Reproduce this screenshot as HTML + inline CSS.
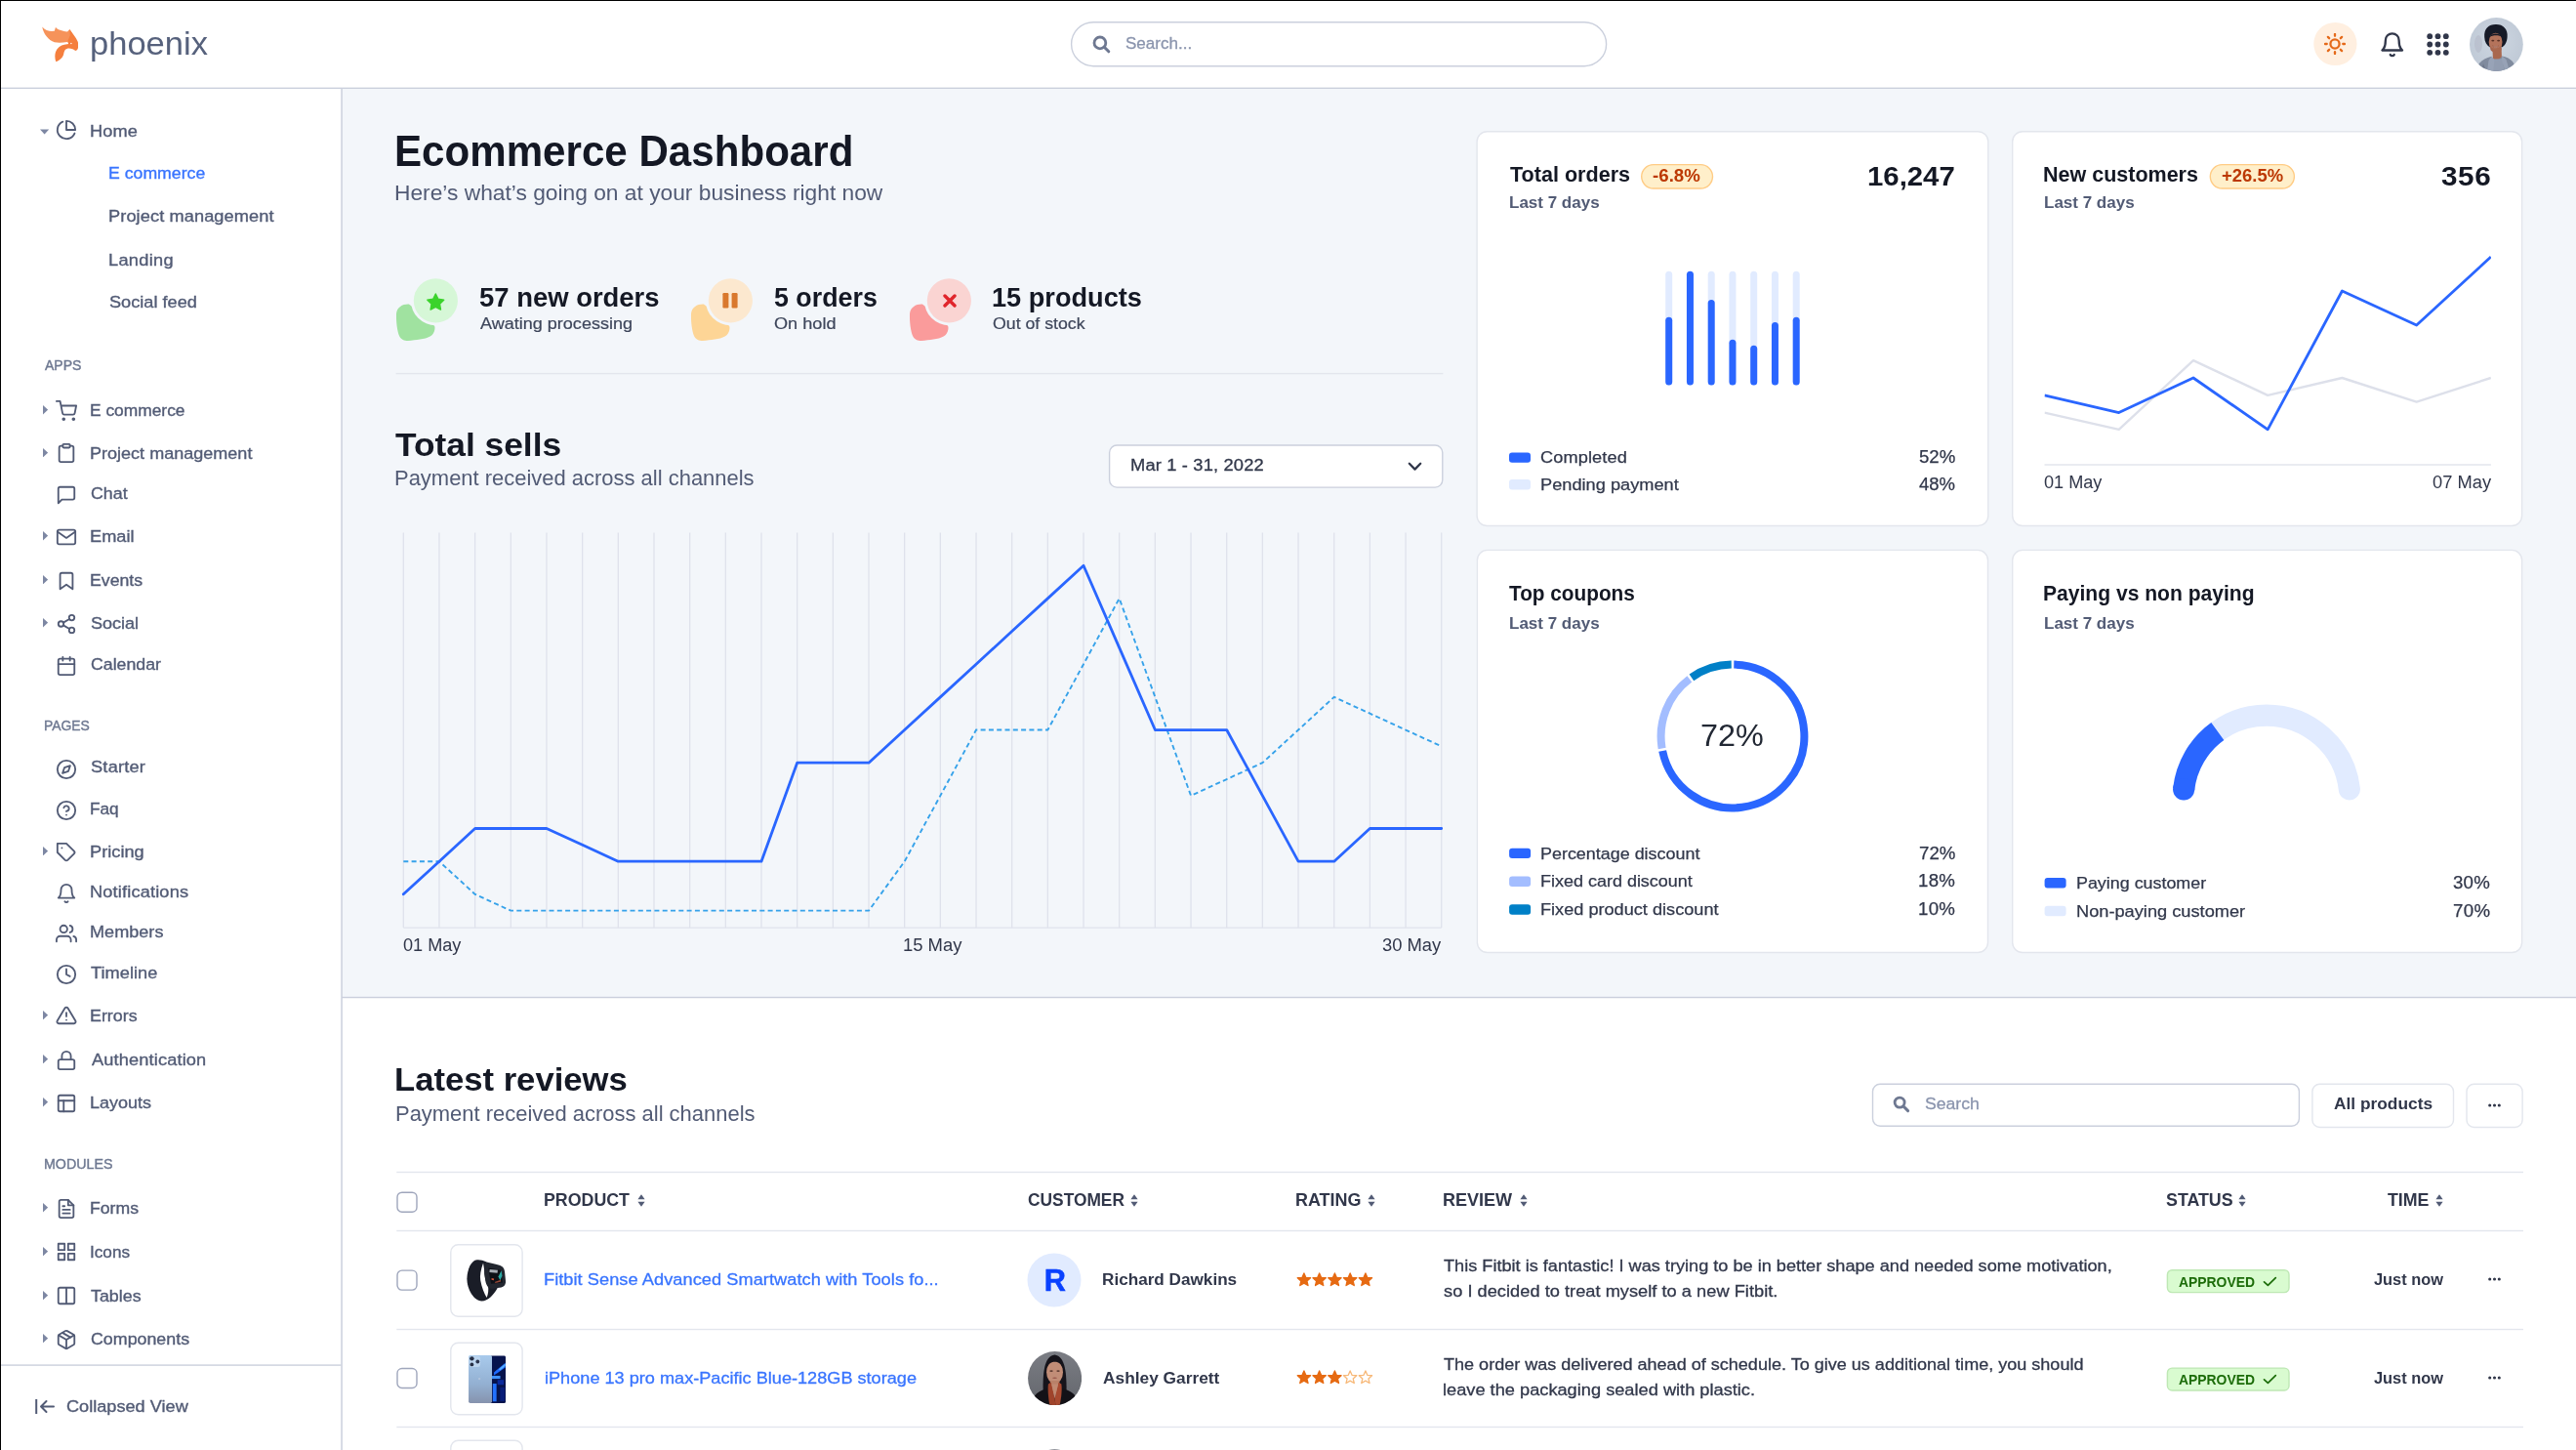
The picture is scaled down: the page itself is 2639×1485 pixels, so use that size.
<!DOCTYPE html>
<html lang="en"><head><meta charset="utf-8"><title>Phoenix</title>
<style>
html,body{margin:0;padding:0;background:#fff;}
body{width:2639px;height:1485px;overflow:hidden;position:relative;font-family:"Liberation Sans", sans-serif;}
#r{position:absolute;left:0;top:0;width:2639px;height:1485px;overflow:hidden;will-change:transform;}
#r div,#r span.t,#r svg{position:absolute;box-sizing:border-box;}
#r span.t{white-space:pre;display:block;}
</style></head>
<body><div id="r">
<div style="left:0.00px;top:0.00px;width:2639.00px;height:1485.00px;background:#fff;"></div>
<svg style="left:348px;top:88px" width="2305" height="938"><rect x="2.00" y="2.00" width="2299.00" height="932.20" rx="0.00" fill="#f3f6fa"/></svg>
<svg style="left:348px;top:1018px" width="2305" height="7"><rect x="2.00" y="2.80" width="2299.00" height="1.40" rx="0.00" fill="#cbd0dd"/></svg>
<svg style="left:-2px;top:87px" width="2655" height="7"><rect x="2.00" y="2.60" width="2649.00" height="1.40" rx="0.00" fill="#cbd0dd"/></svg>
<svg style="left:347px;top:88px" width="7" height="1411"><rect x="2.30" y="2.00" width="1.50" height="1405.00" rx="0.00" fill="#cbd0dd"/></svg>
<svg style="left:-2px;top:1395px" width="355" height="7"><rect x="2.00" y="2.40" width="349.50" height="1.40" rx="0.00" fill="#cbd0dd"/></svg>
<svg style="left:42.8px;top:27px" width="37.3" height="36.5" viewBox="0 0 480 470"><path d="M3 5 C40 50 100 70 165 62 L180 10 C200 45 260 60 335 72 L365 40 C380 70 400 100 410 130 L335 205 C270 218 210 218 165 210 C85 180 20 100 3 5Z" fill="#f6935a"/><path d="M365 40 C400 90 450 150 470 195 C488 240 482 285 462 312 L440 322 C420 300 380 288 335 292 C300 298 292 330 286 365 C280 400 250 440 185 468 C165 420 165 350 200 300 C235 255 280 240 330 236 C352 233 356 222 335 205 L370 120Z" fill="#f57f3e"/><circle cx="385" cy="226" r="9" fill="#fff"/></svg>
<span class="t" style="left:91.98px;top:23px;font-size:33.8px;line-height:43.94px;font-weight:400;color:#56617c;transform:scaleX(1.0212);transform-origin:0 50%;">phoenix</span>
<svg style="left:1094px;top:20px" width="555" height="52"><rect x="3.60" y="2.70" width="548.00" height="45.00" rx="22.50" fill="#fff" stroke="#cbd0dd" stroke-width="1.4"/></svg>
<svg style="left:1118.50px;top:36.30px" width="19" height="19" viewBox="0 0 19 19"><circle cx="7.9" cy="7.9" r="5.9" fill="none" stroke="#6e7891" stroke-width="2.8"/><line x1="12.3" y1="12.3" x2="16.8" y2="16.8" stroke="#6e7891" stroke-width="3" stroke-linecap="round"/></svg>
<span class="t" style="left:1152.93px;top:33px;font-size:17.2px;line-height:22.36px;font-weight:400;color:#8a94ad;transform:scaleX(0.9918);transform-origin:0 50%;-webkit-text-stroke:0.3px #8a94ad;">Search...</span>
<svg style="left:2368px;top:20px" width="50" height="50"><circle cx="24.4" cy="25" r="22.1" fill="#ffefe0"/></svg>
<svg style="left:2381.40px;top:34.30px" width="22" height="22" viewBox="0 0 24 24" fill="none" stroke="#e56a1a" stroke-width="2.5" stroke-linecap="round" stroke-linejoin="round"><circle cx="12" cy="12" r="5"/><line x1="12" y1="1" x2="12" y2="3"/><line x1="12" y1="21" x2="12" y2="23"/><line x1="4.22" y1="4.22" x2="5.64" y2="5.64"/><line x1="18.36" y1="18.36" x2="19.78" y2="19.78"/><line x1="1" y1="12" x2="3" y2="12"/><line x1="21" y1="12" x2="23" y2="12"/><line x1="4.22" y1="19.78" x2="5.64" y2="18.36"/><line x1="18.36" y1="5.64" x2="19.78" y2="4.22"/></svg>
<svg style="left:2436.85px;top:31.85px" width="27.5" height="27.5" viewBox="0 0 24 24" fill="none" stroke="#31374a" stroke-width="2" stroke-linecap="round" stroke-linejoin="round"><path d="M18 8A6 6 0 0 0 6 8c0 7-3 9-3 9h18s-3-2-3-9"/><path d="M13.73 21a2 2 0 0 1-3.46 0"/></svg>
<svg style="left:2485.50px;top:34.30px" width="23" height="23" viewBox="0 0 23 23"><circle cx="3.2" cy="3.2" r="2.9" fill="#31374a"/><circle cx="3.2" cy="11.5" r="2.9" fill="#31374a"/><circle cx="3.2" cy="19.8" r="2.9" fill="#31374a"/><circle cx="11.5" cy="3.2" r="2.9" fill="#31374a"/><circle cx="11.5" cy="11.5" r="2.9" fill="#31374a"/><circle cx="11.5" cy="19.8" r="2.9" fill="#31374a"/><circle cx="19.8" cy="3.2" r="2.9" fill="#31374a"/><circle cx="19.8" cy="11.5" r="2.9" fill="#31374a"/><circle cx="19.8" cy="19.8" r="2.9" fill="#31374a"/></svg>
<svg style="left:2530.10px;top:18.00px" width="55" height="55" viewBox="0 0 55 55"><defs><clipPath id="av0"><circle cx="27.4" cy="27.5" r="27.4"/></clipPath><radialGradient id="av0g" cx="0.5" cy="0.45" r="0.7"><stop offset="0" stop-color="#cdd6e1"/><stop offset="1" stop-color="#bcc6d3"/></radialGradient></defs><g clip-path="url(#av0)"><rect width="55" height="55" fill="url(#av0g)"/><ellipse cx="9" cy="27" rx="4" ry="9" fill="#b6bccb" opacity=".7"/><path d="M15.2 20 C14.5 11 20 6.8 27 7 C34 6.8 39.5 11.5 38.6 20 C38.4 25 36 29 33.5 30.2 L20.5 30.2 C17.5 28.5 15.4 25 15.2 20Z" fill="#161a27"/><ellipse cx="26.6" cy="25" rx="6.9" ry="9.2" fill="#b4735b"/><ellipse cx="23.8" cy="23.6" rx="1.5" ry="0.9" fill="#5a3226"/><ellipse cx="29.6" cy="23.6" rx="1.5" ry="0.9" fill="#5a3226"/><path d="M23.6 29 C25.4 31 28 31 29.8 29 C28 30 25.4 30 23.6 29Z" fill="#f1e1d8" stroke="#8a4a3a" stroke-width="0.5"/><path d="M20.5 20 C22 16 30 15 33.2 20 C31 17.5 23 17.6 20.5 20Z" fill="#161a27"/><path d="M21 29 C23 33 30 33 32.4 28.5 L32.6 33 C30 36.5 24 36.5 21.4 33Z" fill="#a5644e"/><path d="M23.4 32 L32.6 31 L33 43 L24 43Z" fill="#a9684f"/><path d="M7 55 C8 46 14 42 22.5 39.8 L27 46 L33.4 39.6 C42 41.5 46.5 45.5 47.5 55Z" fill="#808b9e"/><path d="M24.6 42.6 L33.2 42.2 L36 55 L24 55Z" fill="#929db1"/><path d="M22.5 39.8 L25.4 43 L24.5 55 L18 55 L19.5 44Z" fill="#98a3b7"/><path d="M33.4 39.6 L32.6 43 L36.6 55 L41 55 L37.5 43Z" fill="#97a2b6"/><path d="M14 47 L17 55 L12 55Z" fill="#5f697c" opacity=".6"/></g></svg>
<svg style="left:41.40px;top:131.60px" width="9.2" height="6" viewBox="0 0 9.2 6"><path d="M0 0.4 L9.2 0.4 L4.6 5.6Z" fill="#7d87a3"/></svg>
<svg style="left:56.80px;top:122.40px" width="22" height="22" viewBox="0 0 24 24" fill="none" stroke="#525b75" stroke-width="2" stroke-linecap="round" stroke-linejoin="round"><path d="M21.21 15.89A10 10 0 1 1 8 2.83"/><path d="M22 12A10 10 0 0 0 12 2v10z"/></svg>
<span class="t" style="left:92.10px;top:123px;font-size:17.2px;line-height:22.36px;font-weight:400;color:#525b75;letter-spacing:0.061px;transform:scaleX(1.0600);transform-origin:0 50%;-webkit-text-stroke:0.35px #525b75;">Home</span>
<span class="t" style="left:111.15px;top:166px;font-size:17.2px;line-height:22.36px;font-weight:400;color:#3874ff;transform:scaleX(1.0287);transform-origin:0 50%;-webkit-text-stroke:0.35px #3874ff;">E commerce</span>
<span class="t" style="left:111.10px;top:210px;font-size:17.2px;line-height:22.36px;font-weight:400;color:#525b75;letter-spacing:0.079px;transform:scaleX(1.0600);transform-origin:0 50%;-webkit-text-stroke:0.35px #525b75;">Project management</span>
<span class="t" style="left:111.10px;top:255px;font-size:17.2px;line-height:22.36px;font-weight:400;color:#525b75;letter-spacing:0.272px;transform:scaleX(1.0600);transform-origin:0 50%;-webkit-text-stroke:0.35px #525b75;">Landing</span>
<span class="t" style="left:111.77px;top:298px;font-size:17.2px;line-height:22.36px;font-weight:400;color:#525b75;transform:scaleX(1.0570);transform-origin:0 50%;-webkit-text-stroke:0.35px #525b75;">Social feed</span>
<span class="t" style="left:45.87px;top:365px;font-size:14.4px;line-height:18.72px;font-weight:400;color:#6e7891;transform:scaleX(0.9757);transform-origin:0 50%;-webkit-text-stroke:0.4px #6e7891;">APPS</span>
<svg style="left:43.80px;top:415.20px" width="5.4" height="9.4" viewBox="0 0 5.4 9.4"><path d="M0 0 L5.2 4.7 L0 9.4Z" fill="#7d87a3"/></svg>
<svg style="left:56.80px;top:409.70px" width="22" height="22" viewBox="0 0 24 24" fill="none" stroke="#525b75" stroke-width="2" stroke-linecap="round" stroke-linejoin="round"><circle cx="9" cy="21" r="1"/><circle cx="20" cy="21" r="1"/><path d="M1 1h4l2.68 13.39a2 2 0 0 0 2 1.61h9.72a2 2 0 0 0 2-1.61L23 6H6"/></svg>
<span class="t" style="left:92.17px;top:409px;font-size:17.2px;line-height:22.36px;font-weight:400;color:#525b75;transform:scaleX(1.0107);transform-origin:0 50%;-webkit-text-stroke:0.35px #525b75;">E commerce</span>
<svg style="left:43.80px;top:458.80px" width="5.4" height="9.4" viewBox="0 0 5.4 9.4"><path d="M0 0 L5.2 4.7 L0 9.4Z" fill="#7d87a3"/></svg>
<svg style="left:56.80px;top:453.30px" width="22" height="22" viewBox="0 0 24 24" fill="none" stroke="#525b75" stroke-width="2" stroke-linecap="round" stroke-linejoin="round"><path d="M16 4h2a2 2 0 0 1 2 2v14a2 2 0 0 1-2 2H6a2 2 0 0 1-2-2V6a2 2 0 0 1 2-2h2"/><rect x="8" y="2" width="8" height="4" rx="1" ry="1"/></svg>
<span class="t" style="left:92.12px;top:453px;font-size:17.2px;line-height:22.36px;font-weight:400;color:#525b75;transform:scaleX(1.0493);transform-origin:0 50%;-webkit-text-stroke:0.35px #525b75;">Project management</span>
<svg style="left:56.80px;top:496.00px" width="22" height="22" viewBox="0 0 24 24" fill="none" stroke="#525b75" stroke-width="2" stroke-linecap="round" stroke-linejoin="round"><path d="M21 15a2 2 0 0 1-2 2H7l-4 4V5a2 2 0 0 1 2-2h14a2 2 0 0 1 2 2z"/></svg>
<span class="t" style="left:92.69px;top:494px;font-size:17.2px;line-height:22.36px;font-weight:400;color:#525b75;transform:scaleX(1.0364);transform-origin:0 50%;-webkit-text-stroke:0.35px #525b75;">Chat</span>
<svg style="left:43.80px;top:544.30px" width="5.4" height="9.4" viewBox="0 0 5.4 9.4"><path d="M0 0 L5.2 4.7 L0 9.4Z" fill="#7d87a3"/></svg>
<svg style="left:56.80px;top:538.80px" width="22" height="22" viewBox="0 0 24 24" fill="none" stroke="#525b75" stroke-width="2" stroke-linecap="round" stroke-linejoin="round"><path d="M4 4h16c1.1 0 2 .9 2 2v12c0 1.1-.9 2-2 2H4c-1.1 0-2-.9-2-2V6c0-1.1.9-2 2-2z"/><polyline points="22,6 12,13 2,6"/></svg>
<span class="t" style="left:92.10px;top:538px;font-size:17.2px;line-height:22.36px;font-weight:400;color:#525b75;transform:scaleX(1.0600);transform-origin:0 50%;-webkit-text-stroke:0.35px #525b75;">Email</span>
<svg style="left:43.80px;top:589.00px" width="5.4" height="9.4" viewBox="0 0 5.4 9.4"><path d="M0 0 L5.2 4.7 L0 9.4Z" fill="#7d87a3"/></svg>
<svg style="left:56.80px;top:583.50px" width="22" height="22" viewBox="0 0 24 24" fill="none" stroke="#525b75" stroke-width="2" stroke-linecap="round" stroke-linejoin="round"><path d="M19 21l-7-5-7 5V5a2 2 0 0 1 2-2h10a2 2 0 0 1 2 2z"/></svg>
<span class="t" style="left:92.15px;top:583px;font-size:17.2px;line-height:22.36px;font-weight:400;color:#525b75;transform:scaleX(1.0294);transform-origin:0 50%;-webkit-text-stroke:0.35px #525b75;">Events</span>
<svg style="left:43.80px;top:633.40px" width="5.4" height="9.4" viewBox="0 0 5.4 9.4"><path d="M0 0 L5.2 4.7 L0 9.4Z" fill="#7d87a3"/></svg>
<svg style="left:56.80px;top:627.90px" width="22" height="22" viewBox="0 0 24 24" fill="none" stroke="#525b75" stroke-width="2" stroke-linecap="round" stroke-linejoin="round"><circle cx="18" cy="5" r="3"/><circle cx="6" cy="12" r="3"/><circle cx="18" cy="19" r="3"/><line x1="8.59" y1="13.51" x2="15.42" y2="17.49"/><line x1="15.41" y1="6.51" x2="8.59" y2="10.49"/></svg>
<span class="t" style="left:92.78px;top:627px;font-size:17.2px;line-height:22.36px;font-weight:400;color:#525b75;transform:scaleX(1.0494);transform-origin:0 50%;-webkit-text-stroke:0.35px #525b75;">Social</span>
<svg style="left:56.80px;top:670.60px" width="22" height="22" viewBox="0 0 24 24" fill="none" stroke="#525b75" stroke-width="2" stroke-linecap="round" stroke-linejoin="round"><rect x="3" y="4" width="18" height="18" rx="2" ry="2"/><line x1="16" y1="2" x2="16" y2="6"/><line x1="8" y1="2" x2="8" y2="6"/><line x1="3" y1="10" x2="21" y2="10"/></svg>
<span class="t" style="left:92.70px;top:669px;font-size:17.2px;line-height:22.36px;font-weight:400;color:#525b75;transform:scaleX(1.0322);transform-origin:0 50%;-webkit-text-stroke:0.35px #525b75;">Calendar</span>
<span class="t" style="left:44.76px;top:734px;font-size:14.4px;line-height:18.72px;font-weight:400;color:#6e7891;transform:scaleX(0.9660);transform-origin:0 50%;-webkit-text-stroke:0.4px #6e7891;">PAGES</span>
<svg style="left:56.80px;top:776.50px" width="22" height="22" viewBox="0 0 24 24" fill="none" stroke="#525b75" stroke-width="2" stroke-linecap="round" stroke-linejoin="round"><circle cx="12" cy="12" r="10"/><polygon points="16.24 7.76 14.12 14.12 7.76 16.24 9.88 9.88 16.24 7.76"/></svg>
<span class="t" style="left:92.77px;top:774px;font-size:17.2px;line-height:22.36px;font-weight:400;color:#525b75;letter-spacing:0.195px;transform:scaleX(1.0600);transform-origin:0 50%;-webkit-text-stroke:0.35px #525b75;">Starter</span>
<svg style="left:56.80px;top:819.00px" width="22" height="22" viewBox="0 0 24 24" fill="none" stroke="#525b75" stroke-width="2" stroke-linecap="round" stroke-linejoin="round"><circle cx="12" cy="12" r="10"/><path d="M9.09 9a3 3 0 0 1 5.83 1c0 2-3 3-3 3"/><line x1="12" y1="17" x2="12.01" y2="17"/></svg>
<span class="t" style="left:92.18px;top:817px;font-size:17.2px;line-height:22.36px;font-weight:400;color:#525b75;transform:scaleX(1.0032);transform-origin:0 50%;-webkit-text-stroke:0.35px #525b75;">Faq</span>
<svg style="left:43.80px;top:867.10px" width="5.4" height="9.4" viewBox="0 0 5.4 9.4"><path d="M0 0 L5.2 4.7 L0 9.4Z" fill="#7d87a3"/></svg>
<svg style="left:56.80px;top:861.60px" width="22" height="22" viewBox="0 0 24 24" fill="none" stroke="#525b75" stroke-width="2" stroke-linecap="round" stroke-linejoin="round"><path d="M20.59 13.41l-7.17 7.17a2 2 0 0 1-2.83 0L2 12V2h10l8.59 8.59a2 2 0 0 1 0 2.82z"/><line x1="7" y1="7" x2="7.01" y2="7"/></svg>
<span class="t" style="left:92.10px;top:861px;font-size:17.2px;line-height:22.36px;font-weight:400;color:#525b75;transform:scaleX(1.0600);transform-origin:0 50%;-webkit-text-stroke:0.35px #525b75;">Pricing</span>
<svg style="left:56.80px;top:904.30px" width="22" height="22" viewBox="0 0 24 24" fill="none" stroke="#525b75" stroke-width="2" stroke-linecap="round" stroke-linejoin="round"><path d="M18 8A6 6 0 0 0 6 8c0 7-3 9-3 9h18s-3-2-3-9"/><path d="M13.73 21a2 2 0 0 1-3.46 0"/></svg>
<span class="t" style="left:92.10px;top:902px;font-size:17.2px;line-height:22.36px;font-weight:400;color:#525b75;letter-spacing:0.142px;transform:scaleX(1.0600);transform-origin:0 50%;-webkit-text-stroke:0.35px #525b75;">Notifications</span>
<svg style="left:56.80px;top:945.30px" width="22" height="22" viewBox="0 0 24 24" fill="none" stroke="#525b75" stroke-width="2" stroke-linecap="round" stroke-linejoin="round"><path d="M17 21v-2a4 4 0 0 0-4-4H5a4 4 0 0 0-4 4v2"/><circle cx="9" cy="7" r="4"/><path d="M23 21v-2a4 4 0 0 0-3-3.87"/><path d="M16 3.13a4 4 0 0 1 0 7.75"/></svg>
<span class="t" style="left:92.11px;top:943px;font-size:17.2px;line-height:22.36px;font-weight:400;color:#525b75;transform:scaleX(1.0530);transform-origin:0 50%;-webkit-text-stroke:0.35px #525b75;">Members</span>
<svg style="left:56.80px;top:986.70px" width="22" height="22" viewBox="0 0 24 24" fill="none" stroke="#525b75" stroke-width="2" stroke-linecap="round" stroke-linejoin="round"><circle cx="12" cy="12" r="10"/><polyline points="12 6 12 12 16 14"/></svg>
<span class="t" style="left:93.19px;top:985px;font-size:17.2px;line-height:22.36px;font-weight:400;color:#525b75;letter-spacing:0.033px;transform:scaleX(1.0600);transform-origin:0 50%;-webkit-text-stroke:0.35px #525b75;">Timeline</span>
<svg style="left:43.80px;top:1034.80px" width="5.4" height="9.4" viewBox="0 0 5.4 9.4"><path d="M0 0 L5.2 4.7 L0 9.4Z" fill="#7d87a3"/></svg>
<svg style="left:56.80px;top:1029.30px" width="22" height="22" viewBox="0 0 24 24" fill="none" stroke="#525b75" stroke-width="2" stroke-linecap="round" stroke-linejoin="round"><path d="M10.29 3.86L1.82 18a2 2 0 0 0 1.71 3h16.94a2 2 0 0 0 1.71-3L13.71 3.86a2 2 0 0 0-3.42 0z"/><line x1="12" y1="9" x2="12" y2="13"/><line x1="12" y1="17" x2="12.01" y2="17"/></svg>
<span class="t" style="left:92.13px;top:1029px;font-size:17.2px;line-height:22.36px;font-weight:400;color:#525b75;transform:scaleX(1.0388);transform-origin:0 50%;-webkit-text-stroke:0.35px #525b75;">Errors</span>
<svg style="left:43.80px;top:1080.00px" width="5.4" height="9.4" viewBox="0 0 5.4 9.4"><path d="M0 0 L5.2 4.7 L0 9.4Z" fill="#7d87a3"/></svg>
<svg style="left:56.80px;top:1074.50px" width="22" height="22" viewBox="0 0 24 24" fill="none" stroke="#525b75" stroke-width="2" stroke-linecap="round" stroke-linejoin="round"><rect x="3" y="11" width="18" height="11" rx="2" ry="2"/><path d="M7 11V7a5 5 0 0 1 10 0v4"/></svg>
<span class="t" style="left:93.56px;top:1074px;font-size:17.2px;line-height:22.36px;font-weight:400;color:#525b75;letter-spacing:0.127px;transform:scaleX(1.0600);transform-origin:0 50%;-webkit-text-stroke:0.35px #525b75;">Authentication</span>
<svg style="left:43.80px;top:1124.40px" width="5.4" height="9.4" viewBox="0 0 5.4 9.4"><path d="M0 0 L5.2 4.7 L0 9.4Z" fill="#7d87a3"/></svg>
<svg style="left:56.80px;top:1118.90px" width="22" height="22" viewBox="0 0 24 24" fill="none" stroke="#525b75" stroke-width="2" stroke-linecap="round" stroke-linejoin="round"><rect x="3" y="3" width="18" height="18" rx="2" ry="2"/><line x1="3" y1="9" x2="21" y2="9"/><line x1="9" y1="21" x2="9" y2="9"/></svg>
<span class="t" style="left:92.12px;top:1118px;font-size:17.2px;line-height:22.36px;font-weight:400;color:#525b75;transform:scaleX(1.0469);transform-origin:0 50%;-webkit-text-stroke:0.35px #525b75;">Layouts</span>
<span class="t" style="left:44.73px;top:1183px;font-size:14.4px;line-height:18.72px;font-weight:400;color:#6e7891;transform:scaleX(0.9895);transform-origin:0 50%;-webkit-text-stroke:0.4px #6e7891;">MODULES</span>
<svg style="left:43.80px;top:1232.20px" width="5.4" height="9.4" viewBox="0 0 5.4 9.4"><path d="M0 0 L5.2 4.7 L0 9.4Z" fill="#7d87a3"/></svg>
<svg style="left:56.80px;top:1226.70px" width="22" height="22" viewBox="0 0 24 24" fill="none" stroke="#525b75" stroke-width="2" stroke-linecap="round" stroke-linejoin="round"><path d="M14 2H6a2 2 0 0 0-2 2v16a2 2 0 0 0 2 2h12a2 2 0 0 0 2-2V8z"/><polyline points="14 2 14 8 20 8"/><line x1="16" y1="13" x2="8" y2="13"/><line x1="16" y1="17" x2="8" y2="17"/><polyline points="10 9 9 9 8 9"/></svg>
<span class="t" style="left:92.15px;top:1226px;font-size:17.2px;line-height:22.36px;font-weight:400;color:#525b75;transform:scaleX(1.0263);transform-origin:0 50%;-webkit-text-stroke:0.35px #525b75;">Forms</span>
<svg style="left:43.80px;top:1276.90px" width="5.4" height="9.4" viewBox="0 0 5.4 9.4"><path d="M0 0 L5.2 4.7 L0 9.4Z" fill="#7d87a3"/></svg>
<svg style="left:56.80px;top:1271.40px" width="22" height="22" viewBox="0 0 24 24" fill="none" stroke="#525b75" stroke-width="2" stroke-linecap="round" stroke-linejoin="round"><rect x="3" y="3" width="7" height="7"/><rect x="14" y="3" width="7" height="7"/><rect x="14" y="14" width="7" height="7"/><rect x="3" y="14" width="7" height="7"/></svg>
<span class="t" style="left:92.02px;top:1271px;font-size:17.2px;line-height:22.36px;font-weight:400;color:#525b75;transform:scaleX(0.9978);transform-origin:0 50%;-webkit-text-stroke:0.35px #525b75;">Icons</span>
<svg style="left:43.80px;top:1321.90px" width="5.4" height="9.4" viewBox="0 0 5.4 9.4"><path d="M0 0 L5.2 4.7 L0 9.4Z" fill="#7d87a3"/></svg>
<svg style="left:56.80px;top:1316.40px" width="22" height="22" viewBox="0 0 24 24" fill="none" stroke="#525b75" stroke-width="2" stroke-linecap="round" stroke-linejoin="round"><path d="M12 3h7a2 2 0 0 1 2 2v14a2 2 0 0 1-2 2h-7m0-18H5a2 2 0 0 0-2 2v14a2 2 0 0 0 2 2h7m0-18v18"/></svg>
<span class="t" style="left:93.20px;top:1316px;font-size:17.2px;line-height:22.36px;font-weight:400;color:#525b75;transform:scaleX(1.0394);transform-origin:0 50%;-webkit-text-stroke:0.35px #525b75;">Tables</span>
<svg style="left:43.80px;top:1366.00px" width="5.4" height="9.4" viewBox="0 0 5.4 9.4"><path d="M0 0 L5.2 4.7 L0 9.4Z" fill="#7d87a3"/></svg>
<svg style="left:56.80px;top:1360.50px" width="22" height="22" viewBox="0 0 24 24" fill="none" stroke="#525b75" stroke-width="2" stroke-linecap="round" stroke-linejoin="round"><line x1="16.5" y1="9.4" x2="7.5" y2="4.21"/><path d="M21 16V8a2 2 0 0 0-1-1.73l-7-4a2 2 0 0 0-2 0l-7 4A2 2 0 0 0 3 8v8a2 2 0 0 0 1 1.73l7 4a2 2 0 0 0 2 0l7-4A2 2 0 0 0 21 16z"/><polyline points="3.27 6.96 12 12.01 20.73 6.96"/><line x1="12" y1="22.08" x2="12" y2="12"/></svg>
<span class="t" style="left:92.69px;top:1360px;font-size:17.2px;line-height:22.36px;font-weight:400;color:#525b75;transform:scaleX(1.0369);transform-origin:0 50%;-webkit-text-stroke:0.35px #525b75;">Components</span>
<svg style="left:35.50px;top:1432.00px" width="20" height="17" viewBox="0 0 20 17"><line x1="1.2" y1="1" x2="1.2" y2="16" stroke="#525b75" stroke-width="2"/><path d="M19 8.5 H6 M11.5 3 L6 8.5 L11.5 14" fill="none" stroke="#525b75" stroke-width="2" stroke-linecap="round" stroke-linejoin="round"/></svg>
<span class="t" style="left:67.68px;top:1429px;font-size:17.2px;line-height:22.36px;font-weight:400;color:#525b75;transform:scaleX(1.0560);transform-origin:0 50%;-webkit-text-stroke:0.35px #525b75;">Collapsed View</span>
<span class="t" style="left:403.68px;top:127px;font-size:43.6px;line-height:56.68px;font-weight:700;color:#141824;transform:scaleX(0.9659);transform-origin:0 50%;">Ecommerce Dashboard</span>
<span class="t" style="left:404.43px;top:184px;font-size:21.6px;line-height:28.08px;font-weight:400;color:#525b75;transform:scaleX(1.0543);transform-origin:0 50%;">Here’s what’s going on at your business right now</span>
<svg style="left:400.00px;top:278px" width="80" height="78" viewBox="0 0 1487 1450"><path d="M350 625 C230 620 130 680 112 800 C105 950 130 1150 170 1230 C220 1330 330 1330 450 1305 C600 1290 760 1270 815 1180 C850 1120 850 1060 840 1040 L600 800Z" fill="#a0e2a0"/><circle cx="862" cy="556" r="472" fill="#f3f6fa"/><circle cx="862" cy="556" r="420" fill="#d6f7d7"/></svg>
<svg style="left:437.10px;top:299.60px" width="18.6" height="18" viewBox="-0.4 -0.4 20.8 20"><path d="M10 0.6 L12.9 6.6 L19.4 7.5 L14.7 12.1 L15.8 18.6 L10 15.5 L4.2 18.6 L5.3 12.1 L0.6 7.5 L7.1 6.6Z" fill="#3bd32c" stroke="#3bd32c" stroke-width="1.6" stroke-linejoin="round"/></svg>
<span class="t" style="left:490.86px;top:287px;font-size:27.8px;line-height:36.14px;font-weight:700;color:#141824;transform:scaleX(0.9873);transform-origin:0 50%;">57 new orders</span>
<span class="t" style="left:491.66px;top:320px;font-size:17.2px;line-height:22.36px;font-weight:400;color:#3e465b;transform:scaleX(1.0488);transform-origin:0 50%;-webkit-text-stroke:0.2px #3e465b;">Awating processing</span>
<svg style="left:702.00px;top:278px" width="80" height="78" viewBox="0 0 1487 1450"><path d="M350 625 C230 620 130 680 112 800 C105 950 130 1150 170 1230 C220 1330 330 1330 450 1305 C600 1290 760 1270 815 1180 C850 1120 850 1060 840 1040 L600 800Z" fill="#fdd596"/><circle cx="862" cy="556" r="472" fill="#f3f6fa"/><circle cx="862" cy="556" r="420" fill="#fce8cf"/></svg>
<svg style="left:740.40px;top:300.30px" width="16" height="15.5" viewBox="0 0 16 15.5"><rect x="0.4" y="0" width="6" height="15.5" rx="1.2" fill="#d9782d"/><rect x="9.6" y="0" width="6" height="15.5" rx="1.2" fill="#d9782d"/></svg>
<span class="t" style="left:793.08px;top:287px;font-size:27.8px;line-height:36.14px;font-weight:700;color:#141824;transform:scaleX(0.9646);transform-origin:0 50%;">5 orders</span>
<span class="t" style="left:793.04px;top:320px;font-size:17.2px;line-height:22.36px;font-weight:400;color:#3e465b;transform:scaleX(1.0553);transform-origin:0 50%;-webkit-text-stroke:0.2px #3e465b;">On hold</span>
<svg style="left:926.30px;top:278px" width="80" height="78" viewBox="0 0 1487 1450"><path d="M350 625 C230 620 130 680 112 800 C105 950 130 1150 170 1230 C220 1330 330 1330 450 1305 C600 1290 760 1270 815 1180 C850 1120 850 1060 840 1040 L600 800Z" fill="#fa9b9b"/><circle cx="862" cy="556" r="472" fill="#f3f6fa"/><circle cx="862" cy="556" r="420" fill="#fad4d2"/></svg>
<svg style="left:965.70px;top:301.30px" width="14" height="14" viewBox="0 0 14 14"><path d="M2 2 L12 12 M12 2 L2 12" stroke="#e0252b" stroke-width="3.4" stroke-linecap="round"/></svg>
<span class="t" style="left:1016.19px;top:287px;font-size:27.8px;line-height:36.14px;font-weight:700;color:#141824;transform:scaleX(0.9769);transform-origin:0 50%;">15 products</span>
<span class="t" style="left:1017.06px;top:320px;font-size:17.2px;line-height:22.36px;font-weight:400;color:#3e465b;transform:scaleX(1.0306);transform-origin:0 50%;-webkit-text-stroke:0.2px #3e465b;">Out of stock</span>
<svg style="left:403px;top:379px" width="1078" height="7"><rect x="2.60" y="2.90" width="1072.80" height="1.40" rx="0.00" fill="#e3e6ed"/></svg>
<span class="t" style="left:405.20px;top:433px;font-size:34px;line-height:44.2px;font-weight:700;color:#141824;transform:scaleX(1.0390);transform-origin:0 50%;">Total sells</span>
<span class="t" style="left:403.80px;top:477px;font-size:21.5px;line-height:27.95px;font-weight:400;color:#525b75;transform:scaleX(1.0213);transform-origin:0 50%;">Payment received across all channels</span>
<svg style="left:1133px;top:453px" width="348" height="50"><rect x="3.60" y="3.00" width="341.20" height="43.10" rx="7.60" fill="#fff" stroke="#cbd0dd" stroke-width="1.4"/></svg>
<span class="t" style="left:1157.70px;top:465px;font-size:17.3px;line-height:22.49px;font-weight:400;color:#31374a;letter-spacing:0.145px;transform:scaleX(1.0600);transform-origin:0 50%;-webkit-text-stroke:0.3px #31374a;">Mar 1 - 31, 2022</span>
<svg style="left:1441.50px;top:472.50px" width="15" height="10" viewBox="0 0 15 10"><path d="M1.8 1.8 L7.5 7.6 L13.2 1.8" fill="none" stroke="#31374a" stroke-width="2.3" stroke-linecap="round" stroke-linejoin="round"/></svg>
<svg style="left:400.00px;top:530.00px" width="1100" height="440" viewBox="0 0 1100 440"><line x1="13.30" y1="15.60" x2="13.30" y2="420.10" stroke="#dfe2ec" stroke-width="1.3"/><line x1="49.97" y1="15.60" x2="49.97" y2="420.10" stroke="#dfe2ec" stroke-width="1.3"/><line x1="86.64" y1="15.60" x2="86.64" y2="420.10" stroke="#dfe2ec" stroke-width="1.3"/><line x1="123.31" y1="15.60" x2="123.31" y2="420.10" stroke="#dfe2ec" stroke-width="1.3"/><line x1="159.98" y1="15.60" x2="159.98" y2="420.10" stroke="#dfe2ec" stroke-width="1.3"/><line x1="196.65" y1="15.60" x2="196.65" y2="420.10" stroke="#dfe2ec" stroke-width="1.3"/><line x1="233.32" y1="15.60" x2="233.32" y2="420.10" stroke="#dfe2ec" stroke-width="1.3"/><line x1="269.99" y1="15.60" x2="269.99" y2="420.10" stroke="#dfe2ec" stroke-width="1.3"/><line x1="306.66" y1="15.60" x2="306.66" y2="420.10" stroke="#dfe2ec" stroke-width="1.3"/><line x1="343.33" y1="15.60" x2="343.33" y2="420.10" stroke="#dfe2ec" stroke-width="1.3"/><line x1="380.00" y1="15.60" x2="380.00" y2="420.10" stroke="#dfe2ec" stroke-width="1.3"/><line x1="416.67" y1="15.60" x2="416.67" y2="420.10" stroke="#dfe2ec" stroke-width="1.3"/><line x1="453.34" y1="15.60" x2="453.34" y2="420.10" stroke="#dfe2ec" stroke-width="1.3"/><line x1="490.01" y1="15.60" x2="490.01" y2="420.10" stroke="#dfe2ec" stroke-width="1.3"/><line x1="526.68" y1="15.60" x2="526.68" y2="420.10" stroke="#dfe2ec" stroke-width="1.3"/><line x1="563.35" y1="15.60" x2="563.35" y2="420.10" stroke="#dfe2ec" stroke-width="1.3"/><line x1="600.02" y1="15.60" x2="600.02" y2="420.10" stroke="#dfe2ec" stroke-width="1.3"/><line x1="636.69" y1="15.60" x2="636.69" y2="420.10" stroke="#dfe2ec" stroke-width="1.3"/><line x1="673.36" y1="15.60" x2="673.36" y2="420.10" stroke="#dfe2ec" stroke-width="1.3"/><line x1="710.03" y1="15.60" x2="710.03" y2="420.10" stroke="#dfe2ec" stroke-width="1.3"/><line x1="746.70" y1="15.60" x2="746.70" y2="420.10" stroke="#dfe2ec" stroke-width="1.3"/><line x1="783.37" y1="15.60" x2="783.37" y2="420.10" stroke="#dfe2ec" stroke-width="1.3"/><line x1="820.04" y1="15.60" x2="820.04" y2="420.10" stroke="#dfe2ec" stroke-width="1.3"/><line x1="856.71" y1="15.60" x2="856.71" y2="420.10" stroke="#dfe2ec" stroke-width="1.3"/><line x1="893.38" y1="15.60" x2="893.38" y2="420.10" stroke="#dfe2ec" stroke-width="1.3"/><line x1="930.05" y1="15.60" x2="930.05" y2="420.10" stroke="#dfe2ec" stroke-width="1.3"/><line x1="966.72" y1="15.60" x2="966.72" y2="420.10" stroke="#dfe2ec" stroke-width="1.3"/><line x1="1003.39" y1="15.60" x2="1003.39" y2="420.10" stroke="#dfe2ec" stroke-width="1.3"/><line x1="1040.06" y1="15.60" x2="1040.06" y2="420.10" stroke="#dfe2ec" stroke-width="1.3"/><line x1="1076.73" y1="15.60" x2="1076.73" y2="420.10" stroke="#dfe2ec" stroke-width="1.3"/><line x1="13.30" y1="420.10" x2="1076.73" y2="420.10" stroke="#dfe2ec" stroke-width="1.4"/><polyline points="13.30,352.18 49.97,352.18 86.64,385.84 123.31,402.67 159.98,402.67 196.65,402.67 233.32,402.67 269.99,402.67 306.66,402.67 343.33,402.67 380.00,402.67 416.67,402.67 453.34,402.67 490.01,402.67 526.68,352.18 563.35,284.86 600.02,217.54 636.69,217.54 673.36,217.54 710.03,150.22 746.70,82.90 783.37,183.88 820.04,284.86 856.71,268.03 893.38,251.20 930.05,217.54 966.72,183.88 1003.39,200.71 1040.06,217.54 1076.73,234.37" fill="none" stroke="#36a2ea" stroke-width="1.9" stroke-dasharray="5 3.3"/><polyline points="13.30,385.84 49.97,352.18 86.64,318.52 123.31,318.52 159.98,318.52 196.65,335.35 233.32,352.18 269.99,352.18 306.66,352.18 343.33,352.18 380.00,352.18 416.67,251.20 453.34,251.20 490.01,251.20 526.68,217.54 563.35,183.88 600.02,150.22 636.69,116.56 673.36,82.90 710.03,49.24 746.70,133.39 783.37,217.54 820.04,217.54 856.71,217.54 893.38,284.86 930.05,352.18 966.72,352.18 1003.39,318.52 1040.06,318.52 1076.73,318.52" fill="none" stroke="#2a66ff" stroke-width="2.8" stroke-linejoin="round" stroke-linecap="round"/></svg>
<span class="t" style="left:412.59px;top:957px;font-size:17.6px;line-height:22.88px;font-weight:400;color:#31374a;transform:scaleX(1.0302);transform-origin:0 50%;">01 May</span>
<span class="t" style="left:925.10px;top:957px;font-size:17.6px;line-height:22.88px;font-weight:400;color:#31374a;transform:scaleX(1.0474);transform-origin:0 50%;">15 May</span>
<span class="t" style="left:1415.80px;top:957px;font-size:17.6px;line-height:22.88px;font-weight:400;color:#31374a;transform:scaleX(1.0439);transform-origin:0 50%;">30 May</span>
<svg style="left:1510px;top:132px" width="531" height="411"><rect x="3.10" y="2.70" width="523.70" height="403.80" rx="10.30" fill="#fff" stroke="#e3e6ed" stroke-width="1.4"/></svg>
<span class="t" style="left:1546.66px;top:165px;font-size:22px;line-height:28.6px;font-weight:700;color:#141824;transform:scaleX(0.9802);transform-origin:0 50%;">Total orders</span>
<svg style="left:1679px;top:165px" width="80" height="31"><rect x="2.70" y="3.60" width="72.80" height="24.40" rx="12.20" fill="#ffefca" stroke="#ffcc85" stroke-width="1.4"/></svg>
<span class="t" style="left:1693.27px;top:169px;font-size:17.6px;line-height:22.88px;font-weight:700;color:#bc3803;letter-spacing:0.022px;transform:scaleX(1.0600);transform-origin:0 50%;">-6.8%</span>
<span class="t" style="left:1913.45px;top:163px;font-size:28px;line-height:36.4px;font-weight:700;color:#141824;transform:scaleX(1.0478);transform-origin:0 50%;">16,247</span>
<span class="t" style="left:1545.76px;top:196px;font-size:17.2px;line-height:22.36px;font-weight:700;color:#525b75;transform:scaleX(0.9894);transform-origin:0 50%;">Last 7 days</span>
<svg style="left:1704px;top:275px" width="13" height="122"><rect x="2.20" y="2.80" width="7.00" height="116.60" rx="3.50" fill="#e1ebff"/></svg>
<svg style="left:1704px;top:322px" width="13" height="75"><rect x="2.20" y="2.70" width="7.00" height="69.70" rx="3.50" fill="#2a66ff"/></svg>
<svg style="left:1725px;top:275px" width="13" height="122"><rect x="2.95" y="2.80" width="7.00" height="116.60" rx="3.50" fill="#e1ebff"/></svg>
<svg style="left:1725px;top:275px" width="13" height="122"><rect x="2.95" y="2.80" width="7.00" height="116.60" rx="3.50" fill="#2a66ff"/></svg>
<svg style="left:1747px;top:275px" width="13" height="122"><rect x="2.70" y="2.80" width="7.00" height="116.60" rx="3.50" fill="#e1ebff"/></svg>
<svg style="left:1747px;top:304px" width="13" height="93"><rect x="2.70" y="2.90" width="7.00" height="87.50" rx="3.50" fill="#2a66ff"/></svg>
<svg style="left:1769px;top:275px" width="13" height="122"><rect x="2.45" y="2.80" width="7.00" height="116.60" rx="3.50" fill="#e1ebff"/></svg>
<svg style="left:1769px;top:345px" width="13" height="52"><rect x="2.45" y="2.80" width="7.00" height="46.60" rx="3.50" fill="#2a66ff"/></svg>
<svg style="left:1791px;top:275px" width="13" height="122"><rect x="2.20" y="2.80" width="7.00" height="116.60" rx="3.50" fill="#e1ebff"/></svg>
<svg style="left:1791px;top:351px" width="13" height="46"><rect x="2.20" y="2.80" width="7.00" height="40.60" rx="3.50" fill="#2a66ff"/></svg>
<svg style="left:1812px;top:275px" width="13" height="122"><rect x="2.95" y="2.80" width="7.00" height="116.60" rx="3.50" fill="#e1ebff"/></svg>
<svg style="left:1812px;top:328px" width="13" height="70"><rect x="2.95" y="2.00" width="7.00" height="64.40" rx="3.50" fill="#2a66ff"/></svg>
<svg style="left:1834px;top:275px" width="13" height="122"><rect x="2.70" y="2.80" width="7.00" height="116.60" rx="3.50" fill="#e1ebff"/></svg>
<svg style="left:1834px;top:322px" width="13" height="75"><rect x="2.70" y="2.70" width="7.00" height="69.70" rx="3.50" fill="#2a66ff"/></svg>
<svg style="left:1544px;top:461px" width="28" height="16"><rect x="2.00" y="2.40" width="22.00" height="10.40" rx="3.00" fill="#2a66ff"/></svg>
<span class="t" style="left:1578.47px;top:457px;font-size:17.2px;line-height:22.36px;font-weight:400;color:#31374a;letter-spacing:0.081px;transform:scaleX(1.0600);transform-origin:0 50%;-webkit-text-stroke:0.25px #31374a;">Completed</span>
<span class="t" style="left:1965.55px;top:457px;font-size:17.6px;line-height:22.88px;font-weight:400;color:#31374a;transform:scaleX(1.0594);transform-origin:0 50%;-webkit-text-stroke:0.25px #31374a;">52%</span>
<svg style="left:1544px;top:489px" width="28" height="16"><rect x="2.00" y="2.00" width="22.00" height="10.40" rx="3.00" fill="#e1ebff"/></svg>
<span class="t" style="left:1577.91px;top:485px;font-size:17.2px;line-height:22.36px;font-weight:400;color:#31374a;transform:scaleX(1.0594);transform-origin:0 50%;-webkit-text-stroke:0.25px #31374a;">Pending payment</span>
<span class="t" style="left:1965.88px;top:485px;font-size:17.6px;line-height:22.88px;font-weight:400;color:#31374a;transform:scaleX(1.0501);transform-origin:0 50%;-webkit-text-stroke:0.25px #31374a;">48%</span>
<svg style="left:2059px;top:132px" width="529" height="411"><rect x="2.70" y="2.70" width="521.90" height="403.80" rx="10.30" fill="#fff" stroke="#e3e6ed" stroke-width="1.4"/></svg>
<span class="t" style="left:2093.06px;top:165px;font-size:22px;line-height:28.6px;font-weight:700;color:#141824;transform:scaleX(0.9772);transform-origin:0 50%;">New customers</span>
<svg style="left:2261px;top:165px" width="93" height="31"><rect x="3.30" y="3.60" width="86.10" height="24.40" rx="12.20" fill="#ffefca" stroke="#ffcc85" stroke-width="1.4"/></svg>
<span class="t" style="left:2275.73px;top:169px;font-size:17.6px;line-height:22.88px;font-weight:700;color:#bc3803;transform:scaleX(1.0480);transform-origin:0 50%;">+26.5%</span>
<span class="t" style="left:2501.12px;top:163px;font-size:28px;line-height:36.4px;font-weight:700;color:#141824;letter-spacing:0.534px;transform:scaleX(1.0600);transform-origin:0 50%;">356</span>
<span class="t" style="left:2093.66px;top:196px;font-size:17.2px;line-height:22.36px;font-weight:700;color:#525b75;transform:scaleX(0.9894);transform-origin:0 50%;">Last 7 days</span>
<svg style="left:2080.00px;top:240.00px" width="490" height="250" viewBox="0 0 490 250"><defs><clipPath id="nc"><rect x="14.5" y="0" width="457.4" height="250"/></clipPath></defs><g clip-path="url(#nc)"><polyline points="14.50,182.60 90.73,199.80 166.96,129.20 243.19,164.80 319.42,147.00 395.65,171.60 471.88,147.00" fill="none" stroke="#dde0ea" stroke-width="2.4" stroke-linejoin="round"/><polyline points="14.50,164.80 90.73,182.60 166.96,147.00 243.19,199.80 319.42,58.00 395.65,93.00 471.88,23.00" fill="none" stroke="#2a66ff" stroke-width="2.8" stroke-linejoin="round"/></g><line x1="14.5" y1="236" x2="471.9" y2="236" stroke="#e3e6ed" stroke-width="1.4"/></svg>
<span class="t" style="left:2093.79px;top:483px;font-size:17.6px;line-height:22.88px;font-weight:400;color:#31374a;transform:scaleX(1.0302);transform-origin:0 50%;">01 May</span>
<span class="t" style="left:2491.88px;top:483px;font-size:17.6px;line-height:22.88px;font-weight:400;color:#31374a;transform:scaleX(1.0407);transform-origin:0 50%;">07 May</span>
<svg style="left:1510px;top:560px" width="530" height="419"><rect x="3.40" y="3.40" width="523.10" height="412.10" rx="10.30" fill="#fff" stroke="#e3e6ed" stroke-width="1.4"/></svg>
<span class="t" style="left:1546.47px;top:594px;font-size:22px;line-height:28.6px;font-weight:700;color:#141824;transform:scaleX(0.9444);transform-origin:0 50%;">Top coupons</span>
<span class="t" style="left:1545.76px;top:627px;font-size:17.2px;line-height:22.36px;font-weight:700;color:#525b75;transform:scaleX(0.9894);transform-origin:0 50%;">Last 7 days</span>
<svg style="left:1684.70px;top:664.30px" width="180" height="180" viewBox="0 0 180 180"><path d="M91.28 16.61 A73.4 73.4 0 1 1 18.15 105.01" fill="none" stroke="#2a66ff" stroke-width="8.0"/><path d="M17.67 102.49 A73.4 73.4 0 0 1 45.83 31.38" fill="none" stroke="#a3bdff" stroke-width="8.0"/><path d="M47.90 29.87 A73.4 73.4 0 0 1 88.72 16.61" fill="none" stroke="#0080c7" stroke-width="8.0"/></svg>
<span class="t" style="left:1742.09px;top:733px;font-size:32px;line-height:41.6px;font-weight:400;color:#222834;transform:scaleX(1.0104);transform-origin:0 50%;">72%</span>
<svg style="left:1544px;top:866px" width="28" height="16"><rect x="2.10" y="2.70" width="22.00" height="10.40" rx="3.00" fill="#2a66ff"/></svg>
<span class="t" style="left:1578.03px;top:863px;font-size:17.2px;line-height:22.36px;font-weight:400;color:#31374a;transform:scaleX(1.0428);transform-origin:0 50%;-webkit-text-stroke:0.25px #31374a;">Percentage discount</span>
<span class="t" style="left:1965.54px;top:863px;font-size:17.6px;line-height:22.88px;font-weight:400;color:#31374a;letter-spacing:0.042px;transform:scaleX(1.0600);transform-origin:0 50%;-webkit-text-stroke:0.25px #31374a;">72%</span>
<svg style="left:1544px;top:895px" width="28" height="16"><rect x="2.10" y="2.50" width="22.00" height="10.40" rx="3.00" fill="#a3bdff"/></svg>
<span class="t" style="left:1578.02px;top:891px;font-size:17.2px;line-height:22.36px;font-weight:400;color:#31374a;transform:scaleX(1.0455);transform-origin:0 50%;-webkit-text-stroke:0.25px #31374a;">Fixed card discount</span>
<span class="t" style="left:1965.08px;top:891px;font-size:17.6px;line-height:22.88px;font-weight:400;color:#31374a;letter-spacing:0.261px;transform:scaleX(1.0600);transform-origin:0 50%;-webkit-text-stroke:0.25px #31374a;">18%</span>
<svg style="left:1544px;top:924px" width="28" height="16"><rect x="2.10" y="2.30" width="22.00" height="10.40" rx="3.00" fill="#0080c7"/></svg>
<span class="t" style="left:1578.01px;top:920px;font-size:17.2px;line-height:22.36px;font-weight:400;color:#31374a;transform:scaleX(1.0554);transform-origin:0 50%;-webkit-text-stroke:0.25px #31374a;">Fixed product discount</span>
<span class="t" style="left:1965.08px;top:920px;font-size:17.6px;line-height:22.88px;font-weight:400;color:#31374a;letter-spacing:0.261px;transform:scaleX(1.0600);transform-origin:0 50%;-webkit-text-stroke:0.25px #31374a;">10%</span>
<svg style="left:2059px;top:560px" width="529" height="419"><rect x="2.70" y="3.40" width="521.90" height="412.10" rx="10.30" fill="#fff" stroke="#e3e6ed" stroke-width="1.4"/></svg>
<span class="t" style="left:2093.49px;top:594px;font-size:22px;line-height:28.6px;font-weight:700;color:#141824;transform:scaleX(0.9574);transform-origin:0 50%;">Paying vs non paying</span>
<span class="t" style="left:2093.66px;top:627px;font-size:17.2px;line-height:22.36px;font-weight:700;color:#525b75;transform:scaleX(0.9894);transform-origin:0 50%;">Last 7 days</span>
<svg style="left:2172.00px;top:708.00px" width="300" height="140" viewBox="0 0 300 140"><path d="M65.15 100.33 A85.4 85.4 0 0 1 234.85 100.33" fill="none" stroke="#e1ebff" stroke-width="22.2" stroke-linecap="round"/><path d="M65.15 100.33 A85.4 85.4 0 0 1 99.80 40.91" fill="none" stroke="#2a66ff" stroke-width="22.2" stroke-linecap="butt"/><circle cx="65.15" cy="100.33" r="11.1" fill="#2a66ff"/></svg>
<svg style="left:2092px;top:897px" width="28" height="16"><rect x="2.60" y="2.00" width="22.00" height="10.40" rx="3.00" fill="#2a66ff"/></svg>
<span class="t" style="left:2126.53px;top:893px;font-size:17.2px;line-height:22.36px;font-weight:400;color:#31374a;transform:scaleX(1.0402);transform-origin:0 50%;-webkit-text-stroke:0.25px #31374a;">Paying customer</span>
<span class="t" style="left:2512.79px;top:893px;font-size:17.6px;line-height:22.88px;font-weight:400;color:#31374a;letter-spacing:0.209px;transform:scaleX(1.0600);transform-origin:0 50%;-webkit-text-stroke:0.25px #31374a;">30%</span>
<svg style="left:2092px;top:925px" width="28" height="16"><rect x="2.60" y="2.80" width="22.00" height="10.40" rx="3.00" fill="#e1ebff"/></svg>
<span class="t" style="left:2126.50px;top:922px;font-size:17.2px;line-height:22.36px;font-weight:400;color:#31374a;transform:scaleX(1.0600);transform-origin:0 50%;-webkit-text-stroke:0.25px #31374a;">Non-paying customer</span>
<span class="t" style="left:2512.54px;top:922px;font-size:17.6px;line-height:22.88px;font-weight:400;color:#31374a;letter-spacing:0.325px;transform:scaleX(1.0600);transform-origin:0 50%;-webkit-text-stroke:0.25px #31374a;">70%</span>
<span class="t" style="left:403.98px;top:1083px;font-size:34px;line-height:44.2px;font-weight:700;color:#141824;transform:scaleX(1.0187);transform-origin:0 50%;">Latest reviews</span>
<span class="t" style="left:404.50px;top:1128px;font-size:21.5px;line-height:27.95px;font-weight:400;color:#525b75;transform:scaleX(1.0210);transform-origin:0 50%;">Payment received across all channels</span>
<svg style="left:1915px;top:1107px" width="444" height="50"><rect x="3.50" y="3.20" width="436.90" height="43.00" rx="7.60" fill="#fff" stroke="#cbd0dd" stroke-width="1.4"/></svg>
<svg style="left:1938.80px;top:1122.30px" width="18" height="18" viewBox="0 0 18 18"><circle cx="7.1" cy="7.1" r="5" fill="none" stroke="#6e7891" stroke-width="2.8"/><line x1="11" y1="11" x2="15.6" y2="15.6" stroke="#6e7891" stroke-width="3" stroke-linecap="round"/></svg>
<span class="t" style="left:1972.40px;top:1119px;font-size:17.4px;line-height:22.62px;font-weight:400;color:#8a94ad;transform:scaleX(1.0134);transform-origin:0 50%;-webkit-text-stroke:0.3px #8a94ad;">Search</span>
<svg style="left:2366px;top:1107px" width="152" height="51"><rect x="2.90" y="3.20" width="144.60" height="44.30" rx="7.60" fill="#fff" stroke="#e3e6ed" stroke-width="1.4"/></svg>
<span class="t" style="left:2390.67px;top:1119px;font-size:17.4px;line-height:22.62px;font-weight:700;color:#31374a;transform:scaleX(0.9960);transform-origin:0 50%;">All products</span>
<svg style="left:2524px;top:1107px" width="64" height="51"><rect x="3.00" y="3.20" width="57.10" height="44.30" rx="7.60" fill="#fff" stroke="#e3e6ed" stroke-width="1.4"/></svg>
<svg style="left:2549.00px;top:1130.00px" width="13" height="4" viewBox="0 0 13 4"><circle cx="1.7" cy="2" r="1.55" fill="#31374a"/><circle cx="6.5" cy="2" r="1.55" fill="#31374a"/><circle cx="11.299999999999999" cy="2" r="1.55" fill="#31374a"/></svg>
<svg style="left:404px;top:1197px" width="2184" height="7"><rect x="2.30" y="2.80" width="2178.70" height="1.40" rx="0.00" fill="#e3e6ed"/></svg>
<svg style="left:404px;top:1257px" width="2184" height="7"><rect x="2.30" y="2.80" width="2178.70" height="1.40" rx="0.00" fill="#e3e6ed"/></svg>
<svg style="left:404px;top:1358px" width="2184" height="7"><rect x="2.30" y="2.80" width="2178.70" height="1.40" rx="0.00" fill="#e3e6ed"/></svg>
<svg style="left:404px;top:1458px" width="2184" height="7"><rect x="2.30" y="2.80" width="2178.70" height="1.40" rx="0.00" fill="#e3e6ed"/></svg>
<svg style="left:404px;top:1218px" width="27" height="27"><rect x="3.00" y="3.20" width="20.00" height="20.00" rx="4.80" fill="#fff" stroke="#9fa6bc" stroke-width="1.4"/></svg>
<span class="t" style="left:557.41px;top:1218px;font-size:17.9px;line-height:23.27px;font-weight:700;color:#31374a;transform:scaleX(0.9945);transform-origin:0 50%;">PRODUCT</span>
<svg style="left:652.60px;top:1223.10px" width="8" height="13" viewBox="0 0 8 13"><path d="M4 0.3 L7.6 5.2 H0.4Z M4 12.7 L7.6 7.8 H0.4Z" fill="#525b75"/></svg>
<span class="t" style="left:1052.69px;top:1218px;font-size:17.9px;line-height:23.27px;font-weight:700;color:#31374a;transform:scaleX(0.9697);transform-origin:0 50%;">CUSTOMER</span>
<svg style="left:1158.20px;top:1223.10px" width="8" height="13" viewBox="0 0 8 13"><path d="M4 0.3 L7.6 5.2 H0.4Z M4 12.7 L7.6 7.8 H0.4Z" fill="#525b75"/></svg>
<span class="t" style="left:1327.20px;top:1218px;font-size:17.9px;line-height:23.27px;font-weight:700;color:#31374a;transform:scaleX(1.0040);transform-origin:0 50%;">RATING</span>
<svg style="left:1400.50px;top:1223.10px" width="8" height="13" viewBox="0 0 8 13"><path d="M4 0.3 L7.6 5.2 H0.4Z M4 12.7 L7.6 7.8 H0.4Z" fill="#525b75"/></svg>
<span class="t" style="left:1477.99px;top:1218px;font-size:17.9px;line-height:23.27px;font-weight:700;color:#31374a;transform:scaleX(1.0077);transform-origin:0 50%;">REVIEW</span>
<svg style="left:1556.60px;top:1223.10px" width="8" height="13" viewBox="0 0 8 13"><path d="M4 0.3 L7.6 5.2 H0.4Z M4 12.7 L7.6 7.8 H0.4Z" fill="#525b75"/></svg>
<span class="t" style="left:2219.39px;top:1218px;font-size:17.9px;line-height:23.27px;font-weight:700;color:#31374a;transform:scaleX(0.9957);transform-origin:0 50%;">STATUS</span>
<svg style="left:2293.20px;top:1223.10px" width="8" height="13" viewBox="0 0 8 13"><path d="M4 0.3 L7.6 5.2 H0.4Z M4 12.7 L7.6 7.8 H0.4Z" fill="#525b75"/></svg>
<span class="t" style="left:2446.30px;top:1218px;font-size:17.9px;line-height:23.27px;font-weight:700;color:#31374a;transform:scaleX(0.9940);transform-origin:0 50%;">TIME</span>
<svg style="left:2494.80px;top:1223.10px" width="8" height="13" viewBox="0 0 8 13"><path d="M4 0.3 L7.6 5.2 H0.4Z M4 12.7 L7.6 7.8 H0.4Z" fill="#525b75"/></svg>
<svg style="left:404px;top:1298px" width="27" height="27"><rect x="3.00" y="3.10" width="20.00" height="20.00" rx="4.80" fill="#fff" stroke="#9fa6bc" stroke-width="1.4"/></svg>
<svg style="left:459px;top:1272px" width="80" height="80"><rect x="2.80" y="2.80" width="73.30" height="73.50" rx="7.60" fill="#fff" stroke="#e3e6ed" stroke-width="1.4"/></svg>
<svg style="left:478.20px;top:1290.30px" width="40.3" height="42.6" viewBox="180 170 312 330"><path d="M262 172 C215 176 185 250 183 320 C183 400 230 495 300 500 C350 500 400 445 425 395 L335 188 C312 175 286 170 262 172Z" fill="#1a1d27"/><path d="M312 198 C292 250 284 300 290 335 C300 392 320 440 340 472 C352 442 356 410 350 380 C330 340 318 300 320 250Z" fill="#fff"/><path d="M330 188 L440 214 C470 224 480 240 483 270 L490 340 C492 366 480 386 455 391 L380 402 C350 396 335 370 330 340 C321 290 320 230 330 188Z" fill="#22262f"/><path d="M352 236 L452 254 L466 352 L374 362Z" fill="#0d1017"/><rect x="362" y="250" width="64" height="24" fill="#c2c8d0" opacity=".85" transform="rotate(6 394 262)"/><path d="M432 306 L456 258 L462 300 L446 334Z" fill="#2aa9a3"/><path d="M378 318 L398 322 L396 334 L378 330Z" fill="#cf533a"/><path d="M402 348 L450 330 L452 344 L410 356Z" fill="#b5543c" opacity=".8"/></svg>
<span class="t" style="left:557.40px;top:1299px;font-size:17.2px;line-height:22.36px;font-weight:400;color:#3874ff;letter-spacing:0.039px;transform:scaleX(1.0600);transform-origin:0 50%;-webkit-text-stroke:0.3px #3874ff;">Fitbit Sense Advanced Smartwatch with Tools fo...</span>
<svg style="left:1052.40px;top:1282.80px" width="56" height="56"><circle cx="28" cy="28" r="27.5" fill="#e1ebff"/></svg><span class="t" style="left:1069.80px;top:1293.50px;font-size:30.7px;line-height:36px;font-weight:700;color:#0a42ff;-webkit-text-stroke:0.5px #0a42ff;">R</span>
<span class="t" style="left:1129.25px;top:1299px;font-size:17.2px;line-height:22.36px;font-weight:700;color:#31374a;transform:scaleX(0.9975);transform-origin:0 50%;">Richard Dawkins</span>
<svg style="left:1327.60px;top:1301.90px" width="80" height="17" viewBox="0 0 80 17"><path d="M7.90,1.90 L9.79,6.29 L14.56,6.74 L10.96,9.90 L12.01,14.56 L7.90,12.12 L3.79,14.56 L4.84,9.90 L1.24,6.74 L6.01,6.29Z" fill="#e66a12" stroke="#e66a12" stroke-width="1.3" stroke-linejoin="round"/><path d="M23.65,1.90 L25.54,6.29 L30.31,6.74 L26.71,9.90 L27.76,14.56 L23.65,12.12 L19.54,14.56 L20.59,9.90 L16.99,6.74 L21.76,6.29Z" fill="#e66a12" stroke="#e66a12" stroke-width="1.3" stroke-linejoin="round"/><path d="M39.40,1.90 L41.29,6.29 L46.06,6.74 L42.46,9.90 L43.51,14.56 L39.40,12.12 L35.29,14.56 L36.34,9.90 L32.74,6.74 L37.51,6.29Z" fill="#e66a12" stroke="#e66a12" stroke-width="1.3" stroke-linejoin="round"/><path d="M55.15,1.90 L57.04,6.29 L61.81,6.74 L58.21,9.90 L59.26,14.56 L55.15,12.12 L51.04,14.56 L52.09,9.90 L48.49,6.74 L53.26,6.29Z" fill="#e66a12" stroke="#e66a12" stroke-width="1.3" stroke-linejoin="round"/><path d="M70.90,1.90 L72.79,6.29 L77.56,6.74 L73.96,9.90 L75.01,14.56 L70.90,12.12 L66.79,14.56 L67.84,9.90 L64.24,6.74 L69.01,6.29Z" fill="#e66a12" stroke="#e66a12" stroke-width="1.3" stroke-linejoin="round"/></svg>
<span class="t" style="left:1478.89px;top:1285px;font-size:17.2px;line-height:22.36px;font-weight:400;color:#31374a;transform:scaleX(1.0556);transform-origin:0 50%;-webkit-text-stroke:0.3px #31374a;">This Fitbit is fantastic! I was trying to be in better shape and needed some motivation,</span>
<span class="t" style="left:1478.79px;top:1311px;font-size:17.2px;line-height:22.36px;font-weight:400;color:#31374a;letter-spacing:0.024px;transform:scaleX(1.0600);transform-origin:0 50%;-webkit-text-stroke:0.3px #31374a;">so I decided to treat myself to a new Fitbit.</span>
<svg style="left:2217px;top:1298px" width="132" height="30"><rect x="3.40" y="2.70" width="124.60" height="22.90" rx="4.80" fill="#d9fbd0" stroke="#bee8b4" stroke-width="1.4"/></svg>
<span class="t" style="left:2231.75px;top:1304px;font-size:14.4px;line-height:18.72px;font-weight:700;color:#1c6c09;transform:scaleX(0.9649);transform-origin:0 50%;">APPROVED</span>
<svg style="left:2317.50px;top:1306.70px" width="15" height="11" viewBox="0 0 15 11"><path d="M1.5 5.8 L5.4 9.4 L13.3 1.6" fill="none" stroke="#1c6c09" stroke-width="1.7" stroke-linecap="round" stroke-linejoin="round"/></svg>
<span class="t" style="left:2432.25px;top:1299px;font-size:17.2px;line-height:22.36px;font-weight:700;color:#31374a;transform:scaleX(0.9534);transform-origin:0 50%;">Just now</span>
<svg style="left:2549.00px;top:1308.30px" width="13" height="4" viewBox="0 0 13 4"><circle cx="1.7" cy="2" r="1.55" fill="#31374a"/><circle cx="6.5" cy="2" r="1.55" fill="#31374a"/><circle cx="11.299999999999999" cy="2" r="1.55" fill="#31374a"/></svg>
<svg style="left:404px;top:1398px" width="27" height="27"><rect x="3.00" y="3.50" width="20.00" height="20.00" rx="4.80" fill="#fff" stroke="#9fa6bc" stroke-width="1.4"/></svg>
<svg style="left:459px;top:1372px" width="80" height="80"><rect x="2.80" y="3.20" width="73.30" height="73.50" rx="7.60" fill="#fff" stroke="#e3e6ed" stroke-width="1.4"/></svg>
<svg style="left:479.50px;top:1387.70px" width="38.1" height="49.1" viewBox="190 925 295 381"><defs><linearGradient id="ph" x1="0" y1="0" x2="0" y2="1"><stop offset="0" stop-color="#a8caec"/><stop offset="0.6" stop-color="#93b0d2"/><stop offset="1" stop-color="#8693ad"/></linearGradient></defs><rect x="360" y="928" width="125" height="377" rx="12" fill="#06134c"/><path d="M482 985 L392 1060 L392 1085 L482 1022Z" fill="#1f6bff"/><path d="M482 990 L430 1035 L440 1045 L482 1010Z" fill="#58b0ff"/><path d="M372 1088 L442 1088 L442 1112 L372 1112Z" fill="#3f92ff"/><path d="M382 1150 L412 1150 L412 1292 L382 1292Z" fill="#2272ff"/><path d="M420 1120 L470 1120 L470 1160 L420 1160Z" fill="#0b2a9c"/><path d="M440 1180 L478 1180 L478 1290 L440 1290Z" fill="#081d78"/><rect x="190" y="925" width="186" height="380" rx="14" fill="url(#ph)"/><rect x="195" y="930" width="88" height="88" rx="18" fill="#bcd5ef"/><circle cx="216" cy="951" r="17" fill="#273046"/><circle cx="262" cy="975" r="15" fill="#2c3650"/><circle cx="216" cy="998" r="15" fill="#273046"/><circle cx="276" cy="1112" r="9" fill="#b3c5dd"/></svg>
<span class="t" style="left:557.69px;top:1400px;font-size:17.2px;line-height:22.36px;font-weight:400;color:#3874ff;transform:scaleX(1.0550);transform-origin:0 50%;-webkit-text-stroke:0.3px #3874ff;">iPhone 13 pro max-Pacific Blue-128GB storage</span>
<svg style="left:1052.80px;top:1383.60px" width="55.2" height="55.2" viewBox="65 902 457 457"><defs><clipPath id="av1"><circle cx="293.5" cy="1130.5" r="228"/></clipPath><linearGradient id="av1g" x1="0" y1="0" x2="0" y2="1"><stop offset="0" stop-color="#7b7d84"/><stop offset="1" stop-color="#63666c"/></linearGradient></defs><g clip-path="url(#av1)"><rect x="65" y="902" width="457" height="457" fill="url(#av1g)"/><path d="M195 1250 C190 1100 200 940 292 930 C385 940 395 1100 392 1250Z" fill="#16141b"/><ellipse cx="293" cy="1078" rx="70" ry="96" fill="#c18d77"/><ellipse cx="264" cy="1068" rx="14" ry="7" fill="#5b3a30"/><ellipse cx="322" cy="1068" rx="14" ry="7" fill="#5b3a30"/><ellipse cx="293" cy="1128" rx="20" ry="6" fill="#9a5a4c"/><path d="M222 1050 C225 985 260 960 293 962 C330 962 362 990 364 1050 C350 1010 330 990 293 990 C258 990 236 1010 222 1050Z" fill="#16141b"/><path d="M255 1150 L332 1150 L340 1260 L250 1260Z" fill="#b98168"/><path d="M95 1360 C100 1270 160 1235 235 1215 L293 1300 L352 1215 C430 1235 490 1270 495 1360Z" fill="#131217"/><path d="M238 1180 L262 1165 L293 1300 L300 1360 L250 1360 C240 1300 232 1240 238 1180Z" fill="#9f442b"/><path d="M350 1180 L326 1165 L293 1300 L300 1360 L335 1360 C348 1300 356 1240 350 1180Z" fill="#a84a30"/><path d="M266 1180 L322 1180 L293 1300Z" fill="#c08a72"/></g></svg>
<span class="t" style="left:1129.97px;top:1400px;font-size:17.2px;line-height:22.36px;font-weight:700;color:#31374a;transform:scaleX(1.0075);transform-origin:0 50%;">Ashley Garrett</span>
<svg style="left:1327.60px;top:1402.30px" width="80" height="17" viewBox="0 0 80 17"><path d="M7.90,1.90 L9.79,6.29 L14.56,6.74 L10.96,9.90 L12.01,14.56 L7.90,12.12 L3.79,14.56 L4.84,9.90 L1.24,6.74 L6.01,6.29Z" fill="#e66a12" stroke="#e66a12" stroke-width="1.3" stroke-linejoin="round"/><path d="M23.65,1.90 L25.54,6.29 L30.31,6.74 L26.71,9.90 L27.76,14.56 L23.65,12.12 L19.54,14.56 L20.59,9.90 L16.99,6.74 L21.76,6.29Z" fill="#e66a12" stroke="#e66a12" stroke-width="1.3" stroke-linejoin="round"/><path d="M39.40,1.90 L41.29,6.29 L46.06,6.74 L42.46,9.90 L43.51,14.56 L39.40,12.12 L35.29,14.56 L36.34,9.90 L32.74,6.74 L37.51,6.29Z" fill="#e66a12" stroke="#e66a12" stroke-width="1.3" stroke-linejoin="round"/><path d="M55.15,1.90 L57.04,6.29 L61.81,6.74 L58.21,9.90 L59.26,14.56 L55.15,12.12 L51.04,14.56 L52.09,9.90 L48.49,6.74 L53.26,6.29Z" fill="#fff" stroke="#f7b878" stroke-width="1.3" stroke-linejoin="round"/><path d="M70.90,1.90 L72.79,6.29 L77.56,6.74 L73.96,9.90 L75.01,14.56 L70.90,12.12 L66.79,14.56 L67.84,9.90 L64.24,6.74 L69.01,6.29Z" fill="#fff" stroke="#f7b878" stroke-width="1.3" stroke-linejoin="round"/></svg>
<span class="t" style="left:1478.89px;top:1386px;font-size:17.2px;line-height:22.36px;font-weight:400;color:#31374a;transform:scaleX(1.0495);transform-origin:0 50%;-webkit-text-stroke:0.3px #31374a;">The order was delivered ahead of schedule. To give us additional time, you should</span>
<span class="t" style="left:1478.07px;top:1412px;font-size:17.2px;line-height:22.36px;font-weight:400;color:#31374a;transform:scaleX(1.0600);transform-origin:0 50%;-webkit-text-stroke:0.3px #31374a;">leave the packaging sealed with plastic.</span>
<svg style="left:2217px;top:1398px" width="132" height="30"><rect x="3.40" y="3.10" width="124.60" height="22.90" rx="4.80" fill="#d9fbd0" stroke="#bee8b4" stroke-width="1.4"/></svg>
<span class="t" style="left:2231.75px;top:1404px;font-size:14.4px;line-height:18.72px;font-weight:700;color:#1c6c09;transform:scaleX(0.9649);transform-origin:0 50%;">APPROVED</span>
<svg style="left:2317.50px;top:1407.10px" width="15" height="11" viewBox="0 0 15 11"><path d="M1.5 5.8 L5.4 9.4 L13.3 1.6" fill="none" stroke="#1c6c09" stroke-width="1.7" stroke-linecap="round" stroke-linejoin="round"/></svg>
<span class="t" style="left:2432.25px;top:1400px;font-size:17.2px;line-height:22.36px;font-weight:700;color:#31374a;transform:scaleX(0.9534);transform-origin:0 50%;">Just now</span>
<svg style="left:2549.00px;top:1408.70px" width="13" height="4" viewBox="0 0 13 4"><circle cx="1.7" cy="2" r="1.55" fill="#31374a"/><circle cx="6.5" cy="2" r="1.55" fill="#31374a"/><circle cx="11.299999999999999" cy="2" r="1.55" fill="#31374a"/></svg>
<svg style="left:459px;top:1472px" width="80" height="80"><rect x="2.80" y="3.20" width="73.30" height="73.10" rx="7.60" fill="#fff" stroke="#e3e6ed" stroke-width="1.4"/></svg>
<svg style="left:1052px;top:1483px" width="58" height="4"><circle cx="28.4" cy="28.8" r="27.5" fill="#6f727c"/></svg>
<div style="left:0.00px;top:0.00px;width:2639.00px;height:1.00px;background:#000;"></div>
<div style="left:0.00px;top:0.00px;width:1.00px;height:1485.00px;background:#000;"></div>
</div></body></html>
